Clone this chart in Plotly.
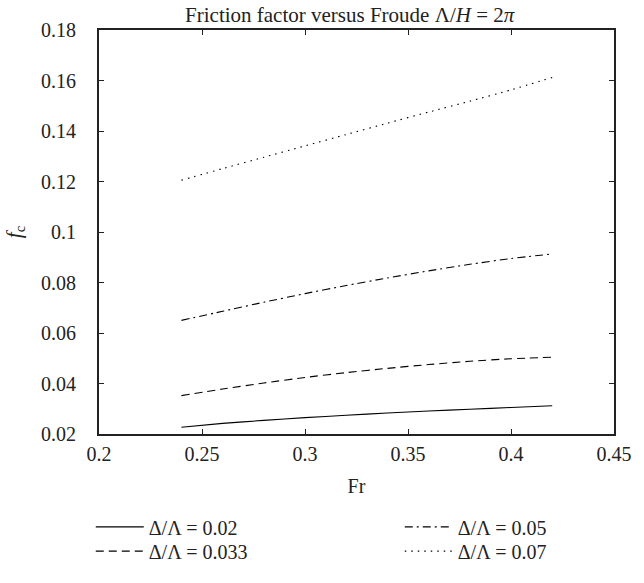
import plotly.graph_objects as go

fr = [0.24, 0.26, 0.28, 0.30, 0.32, 0.34, 0.36, 0.38, 0.40, 0.42]
f_002 = [0.0227, 0.0242, 0.0254, 0.0265, 0.0274, 0.0283, 0.0291, 0.0298, 0.0305, 0.0312]
f_0033 = [0.0352, 0.0378, 0.0402, 0.0424, 0.0443, 0.0460, 0.0475, 0.0488, 0.0498, 0.0504]
f_005 = [0.0650, 0.0686, 0.0722, 0.0756, 0.0788, 0.0818, 0.0846, 0.0872, 0.0895, 0.0913]
f_007 = [0.1205, 0.1251, 0.1296, 0.1341, 0.1386, 0.1431, 0.1475, 0.1518, 0.1563, 0.1612]

labels = ["Δ/Λ = 0.02", "Δ/Λ = 0.033", "Δ/Λ = 0.05", "Δ/Λ = 0.07"]
x_ticks = [0.2, 0.25, 0.3, 0.35, 0.4, 0.45]
x_ticktext = ["0.2", "0.25", "0.3", "0.35", "0.4", "0.45"]
y_ticks = [0.02, 0.04, 0.06, 0.08, 0.1, 0.12, 0.14, 0.16, 0.18]
y_ticktext = ["0.02", "0.04", "0.06", "0.08", "0.1", "0.12", "0.14", "0.16", "0.18"]

FONT = "Liberation Serif"
FS = 20
fig = go.Figure()
series = [(f_002, "solid", "legend"), (f_0033, "8px,5px", "legend2"),
          (f_005, "8px,4px,2px,4px", "legend3"), (f_007, "1.5px,5px", "legend4")]
for (ys, dash, lg), name in zip(series, labels):
    fig.add_trace(go.Scatter(x=fr, y=ys, mode="lines", name=name, legend=lg, showlegend=True,
                             line=dict(color="black", width=1.1, dash=dash, shape="spline", smoothing=0.6)))

axis_common = dict(showline=True, linecolor="#222", linewidth=2, mirror="ticks",
                   ticks="inside", ticklen=5, tickcolor="#222", tickwidth=1, showgrid=False,
                   zeroline=False, tickfont=dict(family=FONT, size=FS, color="#222"))
fig.update_xaxes(range=[0.2, 0.45], tickvals=x_ticks, ticktext=x_ticktext,
                 ticklabelstandoff=1,
                 title=dict(text="Fr", font=dict(family=FONT, size=FS, color="#222"), standoff=15),
                 **axis_common)
fig.update_yaxes(range=[0.02, 0.18], tickvals=y_ticks, ticktext=y_ticktext,
                 ticklabelstandoff=17,
                 title=dict(text="<i>f</i><sub>c</sub>", font=dict(family=FONT, size=FS + 1, color="#222"), standoff=14),
                 **axis_common)

leg_common = dict(font=dict(family=FONT, size=FS, color="#222"), bgcolor="rgba(0,0,0,0)",
                  yanchor="middle", xanchor="left", tracegroupgap=0, itemwidth=48)
fig.update_layout(
    width=644, height=583,
    showlegend=True,
    margin=dict(l=93, r=21, t=30, b=136),
    paper_bgcolor="white", plot_bgcolor="white",
    title=dict(text="Friction factor versus Froude Λ/<i>H</i> = 2<i>π</i>",
               font=dict(family=FONT, size=FS + 1, color="#222"),
               xref="container", x=0.543, xanchor="center", y=0.988, yanchor="top"),
    legend=dict(x=-0.016, y=-0.230, **leg_common),
    legend2=dict(x=-0.016, y=-0.290, **leg_common),
    legend3=dict(x=0.584, y=-0.230, **leg_common),
    legend4=dict(x=0.584, y=-0.290, **leg_common),
)
fig.write_html("out.html")
